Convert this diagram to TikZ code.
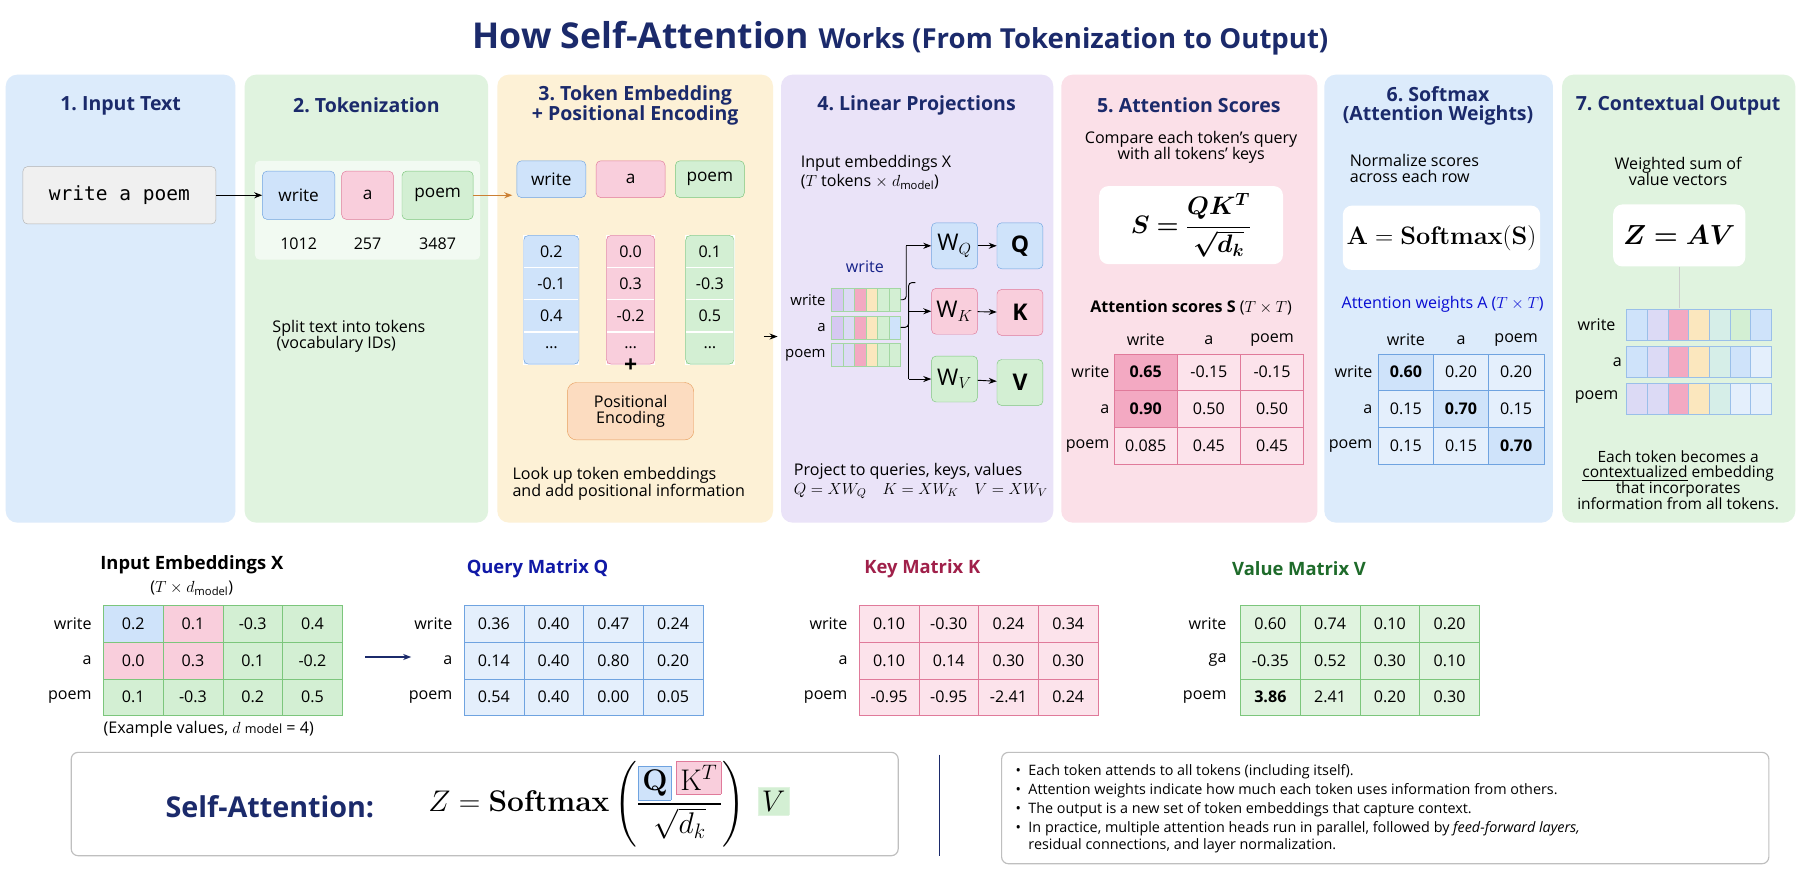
\documentclass[tikz,border=0pt]{standalone}
\usepackage{fix-cm}
\usepackage{amsmath,bm}
\usepackage[no-math]{fontspec}
\setmainfont{Open Sans}
\newfontfamily\monof{DejaVu Sans Mono}
\usetikzlibrary{arrows.meta,calc}
\definecolor{navy}{HTML}{1B2A6B}
\definecolor{pb}{HTML}{DCEBFB}
\definecolor{pg}{HTML}{E0F3DF}
\definecolor{py}{HTML}{FDF1D6}
\definecolor{pp}{HTML}{EAE3F8}
\definecolor{pk}{HTML}{FBE0E8}
\definecolor{bf}{HTML}{CFE3FA}\definecolor{bd}{HTML}{6FA3E0}
\definecolor{kf}{HTML}{F9CEDC}\definecolor{kd}{HTML}{E07A9A}
\definecolor{gf}{HTML}{D3EFD3}\definecolor{gd}{HTML}{7CC67C}
\definecolor{of}{HTML}{FCDCC0}\definecolor{od}{HTML}{E8A060}
\definecolor{lf}{HTML}{DCDAF5}\definecolor{uf}{HTML}{D6C8F2}
\definecolor{yf}{HTML}{FBE7BE}\definecolor{tf}{HTML}{D6EEE8}
\definecolor{kk}{HTML}{F3A9C2}\definecolor{kl}{HTML}{FCE3EB}
\definecolor{bl}{HTML}{E4EFFC}
\definecolor{crim}{HTML}{A0204A}\definecolor{dgreen}{HTML}{1E6B2A}
\newcommand\fs[1]{\fontsize{#1}{#1}\selectfont}
\newcommand\gridrow[6]{\foreach \c/\v [count=\i] in {#6}{\node[cell,fill=\c,minimum width=#4pt,minimum height=#5pt] (#1-\i) at ({#2+(\i-0.5)*#4},#3) {\v};}}
\begin{document}
\begin{tikzpicture}[x=1pt,y=-1pt,
 panel/.style={rounded corners=10pt,draw=none},
 ptitle/.style={font=\bfseries\fs{17},text=navy,align=center},
 txt/.style={font=\fs{14},align=left,anchor=west,inner sep=0},
 ctxt/.style={font=\fs{14},align=center,inner sep=0},
 tok/.style={rounded corners=4pt,draw,minimum height=42pt,font=\fs{15}},
 cell/.style={draw,font=\fs{14},inner sep=0},
 box/.style={rounded corners=4pt,draw,font=\fs{20},minimum height=40pt,minimum width=40pt},
 arr/.style={-{Stealth[length=7pt]},line width=1.2pt},
 wbox/.style={fill=white,rounded corners=8pt,draw=none}]
\useasboundingbox (0,0) rectangle (1568,760);
\fill[white] (0,0) rectangle (1568,760);
\node[text=navy,font=\bfseries] (title) at (784,33) {\fs{31}How Self-Attention \fs{24}Works (From Tokenization to Output)};
% panels
\fill[pb,panel] (5,65) rectangle (205,455);
\fill[pg,panel] (213,65) rectangle (425,455);
\fill[py,panel] (433,65) rectangle (673,455);
\fill[pp,panel] (680,65) rectangle (917,455);
\fill[pk,panel] (924,65) rectangle (1147,455);
\fill[pb,panel] (1153,65) rectangle (1352,455);
\fill[pg,panel] (1360,65) rectangle (1563,455);
\node[ptitle] (t1) at (105,92) {1.\ Input Text};
\node[ptitle] (t2) at (319,92) {2.\ Tokenization};
\node[ptitle] (t3) at (553,92) {3.\ Token Embedding\\+ Positional Encoding};
\node[ptitle] (t4) at (798,92) {4.\ Linear Projections};
\node[ptitle] (t5) at (1035,92) {5.\ Attention Scores};
\node[ptitle] (t6) at (1252,92) {6.\ Softmax\\(Attention Weights)};
\node[ptitle] (t7) at (1461,92) {7.\ Contextual Output};
% panel 1
\node[draw=gray!60,fill=gray!12,rounded corners=4pt,minimum width=168pt,minimum height=50pt,font=\monof\fs{17}] (inp) at (104,170) {write a poem};
% panel 2
\fill[white,opacity=0.6,rounded corners=4pt] (222,140) rectangle (418,226);
\node[tok,fill=bf,draw=bd,minimum width=63pt] (w) at (260,170) {write};
\node[tok,fill=kf,draw=kd,minimum width=45pt] (a) at (320,170) {a};
\node[tok,fill=gf,draw=gd,minimum width=62pt] (p) at (381,170) {poem};
\node[ctxt] (i1) at (260,212) {1012};
\node[ctxt] (i2) at (320,212) {257};
\node[ctxt] (i3) at (381,212) {3487};
\draw[arr] (inp.east) -- (w.west);
\node[txt] (s2) at (237,293) {Split text into tokens\\\ (vocabulary IDs)};
% panel 3
\node[tok,fill=bf,draw=bd,minimum width=60pt,minimum height=32pt] (w3) at (480,156) {write};
\node[tok,fill=kf,draw=kd,minimum width=60pt,minimum height=32pt] (a3) at (549,156) {a};
\node[tok,fill=gf,draw=gd,minimum width=60pt,minimum height=32pt] (p3) at (618,156) {poem};
\draw[arr,color=brown!80!orange] (p.east) -- (446,170);
\begin{scope}[cell/.append style={draw=white,line width=1pt}]
\foreach \v [count=\j] in {0.2,-0.1,0.4,\ldots}{\node[cell,fill=bf,minimum width=48pt,minimum height=28pt] (eb\j) at (480,{191+28*\j}) {\v};}
\foreach \v [count=\j] in {0.0,0.3,-0.2,\ldots}{\node[cell,fill=kf,minimum width=42pt,minimum height=28pt] (ek\j) at (549,{191+28*\j}) {\v};}
\foreach \v [count=\j] in {0.1,-0.3,0.5,\ldots}{\node[cell,fill=gf,minimum width=42pt,minimum height=28pt] (eg\j) at (618,{191+28*\j}) {\v};}
\end{scope}
\draw[bd,rounded corners=4pt] (456,205) rectangle (504,317);
\draw[kd,rounded corners=4pt] (528,205) rectangle (570,317);
\draw[gd,rounded corners=4pt] (597,205) rectangle (639,317);
\node[font=\bfseries\fs{20}] (plus) at (549,318) {+};
\node[tok,fill=of,draw=od,minimum width=110pt,minimum height=50pt,align=center,font=\fs{14},rounded corners=8pt] (pe) at (549,358) {Positional\\Encoding};
\node[txt] (s3) at (446,421) {Look up token embeddings\\and add positional information};
\coordinate (a4) at (677,293);
\draw[arr,line width=1pt] (665,293) -- (a4);
% panel 4
\node[txt] (s4) at (697,150) {Input embeddings X\\[2pt]($T$ tokens $\times$ $d_{\text{model}}$)};
\node[ctxt,text=navy!80!blue] (wl) at (753,232) {write};
\foreach \r/\y in {write/261,a/285,poem/309}{\node[font=\fs{13},anchor=east,inner sep=0] (rl\r) at (719,\y) {\r};}
\begin{scope}[cell/.append style={draw=gd!70}]
\gridrow{b1}{724}{261}{10}{20}{uf/,lf/,kk/,yf/,gf/,gf/}
\gridrow{b2}{724}{285}{10}{20}{uf/,lf/,kk/,yf/,gf/,bf/}
\gridrow{b3}{724}{309}{10}{20}{lf/,lf/,kk/,yf/,gf/,gf/}
\end{scope}
\node[box,fill=bf,draw=bd] (WQ) at (831,214) {W$_Q$};
\node[box,fill=kf,draw=kd] (WK) at (831,271) {W$_K$};
\node[box,fill=gf,draw=gd] (WV) at (831,330) {W$_V$};
\node[box,fill=bf,draw=bd,font=\bfseries\fs{20}] (Q) at (888,214) {Q};
\node[box,fill=kf,draw=kd,font=\bfseries\fs{20}] (K) at (888,272) {K};
\node[box,fill=gf,draw=gd,font=\bfseries\fs{20}] (V) at (888,333) {V};
\draw[thick,rounded corners=3pt] (b1-6.east) -- (789,261) -- (789,214);
\draw[arr,line width=0.8pt] (789,214) -- (WQ.west);
\draw[thick,rounded corners=3pt] (b2-6.east) -- (791,285) -- (791,246) -- (797,246);
\draw[thick,rounded corners=3pt] (791,280) -- (791,330);
\draw[arr,line width=0.8pt] (791,271) -- (WK.west);
\draw[arr,line width=0.8pt] (791,330) -- (WV.west);
\draw[arr,line width=0.8pt] (WQ) -- (Q);
\draw[arr,line width=0.8pt] (WK) -- (K);
\draw[arr,line width=0.8pt] (WV) -- (V);
\node[txt] (s4b) at (691,419) {Project to queries, keys, values\\[2pt]$Q=XW_Q\quad K=XW_K\quad V=XW_V$};
% panel 5
\node[ctxt] (s5) at (1037,128) {Compare each token's query\\with all tokens' keys};
\node[wbox,minimum width=160pt,minimum height=68pt,font=\fs{22}] (f5) at (1037,196) {$\bm{S=\dfrac{QK^T}{\sqrt{d_k}}}$};
\node[ctxt,font=\bfseries\fs{14}] (l5) at (1037,268) {Attention scores S {\mdseries($T\times T$)}};
\foreach \h/\x in {write/997.5,a/1052.5,poem/1107.5}{\node[ctxt] (h5\h) at (\x,296) {\h};}
\foreach \r/\y in {write/324,a/356,poem/388}{\node[font=\fs{14},anchor=east,inner sep=0] (r5\r) at (966,\y) {\r};}
\begin{scope}[cell/.append style={draw=kd}]
\gridrow{s1}{970}{324}{55}{32}{kk/\textbf{0.65},kl/-0.15,kl/-0.15}
\gridrow{s2}{970}{356}{55}{32}{kk/\textbf{0.90},kl/0.50,kl/0.50}
\gridrow{s3}{970}{388}{55}{32}{kl/0.085,kl/0.45,kl/0.45}
\end{scope}
% panel 6
\node[txt] (s6) at (1175,147) {Normalize scores\\across each row};
\node[wbox,minimum width=160pt,minimum height=56pt,font=\fs{22}] (f6) at (1255,207) {$\mathbf{A=Softmax(S)}$};
\node[ctxt,text=blue!70!navy] (l6) at (1256,265) {Attention weights A ($T\times T$)};
\foreach \h/\x in {write/1224,a/1272,poem/1320}{\node[ctxt] (h6\h) at (\x,296) {\h};}
\foreach \r/\y in {write/324,a/356,poem/388}{\node[font=\fs{14},anchor=east,inner sep=0] (r6\r) at (1195,\y) {\r};}
\begin{scope}[cell/.append style={draw=bd}]
\gridrow{a1}{1200}{324}{48}{32}{bf/\textbf{0.60},bl/0.20,bl/0.20}
\gridrow{a2}{1200}{356}{48}{32}{bl/0.15,bf/\textbf{0.70},bl/0.15}
\gridrow{a3}{1200}{388}{48}{32}{bl/0.15,bl/0.15,bf/\textbf{0.70}}
\end{scope}
% panel 7
\node[ctxt] (s7) at (1461,149) {Weighted sum of\\value vectors};
\node[wbox,minimum width=115pt,minimum height=54pt,font=\fs{24}] (f7) at (1462,205) {$\bm{Z=AV}$};
\draw[gray!40] (f7.south) -- (1462,268);
\foreach \r/\y/\x in {write/283/1390,a/315/1408,poem/346/1390}{\node[font=\fs{14},inner sep=0] (r7\r) at (\x,\y) {\r};}
\begin{scope}[cell/.append style={draw=bd!70}]
\gridrow{z1}{1416}{283}{18}{27}{bf/,lf/,kk/,yf/,tf/,gf/,bf/}
\gridrow{z2}{1416}{315}{18}{27}{bf/,lf/,kk/,yf/,tf/,bf/,bl/}
\gridrow{z3}{1416}{347}{18}{27}{lf/,lf/,kk/,yf/,tf/,bl/,bl/}
\end{scope}
\node[ctxt,font=\fs{13.5}] (s7b) at (1461,418) {Each token becomes a\\\underline{contextualized} embedding\\that incorporates\\information from all tokens.};
% bottom matrices
\node[ctxt,font=\bfseries\fs{16}] (tx) at (167,492) {Input Embeddings X};
\node[ctxt] (tx2) at (167,512) {($T\times d_{\text{model}}$)};
\node[ctxt,font=\bfseries\fs{16},text=navy!60!blue] (tq) at (468,495) {Query Matrix Q};
\node[ctxt,font=\bfseries\fs{16},text=crim] (tk) at (803,495) {Key Matrix K};
\node[ctxt,font=\bfseries\fs{16},text=dgreen] (tv) at (1131,495) {Value Matrix V};
\foreach \n/\lx/\lb in {X/80/a,Q/394/a,K/738/a,V/1068/ga}{
 \node[font=\fs{14},anchor=east,inner sep=0] (\n rw) at (\lx,543) {write};
 \node[font=\fs{14},anchor=east,inner sep=0] (\n ra) at (\lx,575) {\lb};
 \node[font=\fs{14},anchor=east,inner sep=0] (\n rp) at (\lx,607) {poem};}
\begin{scope}[cell/.append style={draw=gd}]
\gridrow{x1}{90}{543}{52}{32}{bf/0.2,kf/0.1,gf/-0.3,gf/0.4}
\gridrow{x2}{90}{575}{52}{32}{kf/0.0,kf/0.3,gf/0.1,gf/-0.2}
\gridrow{x3}{90}{607}{52}{32}{gf/0.1,gf/-0.3,gf/0.2,gf/0.5}
\end{scope}
\node[txt] (ex) at (90,635) {(Example values, $d$ {\fs{11}model} = 4)};
\draw[arr,navy] (318,572) -- (358,572);
\begin{scope}[cell/.append style={draw=bd}]
\gridrow{q1}{404}{543}{52}{32}{bl/0.36,bl/0.40,bl/0.47,bl/0.24}
\gridrow{q2}{404}{575}{52}{32}{bl/0.14,bl/0.40,bl/0.80,bl/0.20}
\gridrow{q3}{404}{607}{52}{32}{bl/0.54,bl/0.40,bl/0.00,bl/0.05}
\end{scope}
\begin{scope}[cell/.append style={draw=kd}]
\gridrow{k1}{748}{543}{52}{32}{kl/0.10,kl/-0.30,kl/0.24,kl/0.34}
\gridrow{k2}{748}{575}{52}{32}{kl/0.10,kl/0.14,kl/0.30,kl/0.30}
\gridrow{k3}{748}{607}{52}{32}{kl/-0.95,kl/-0.95,kl/-2.41,kl/0.24}
\end{scope}
\begin{scope}[cell/.append style={draw=gd}]
\gridrow{v1}{1080}{543}{52}{32}{pg/0.60,pg/0.74,pg/0.10,pg/0.20}
\gridrow{v2}{1080}{575}{52}{32}{pg/-0.35,pg/0.52,pg/0.30,pg/0.10}
\gridrow{v3}{1080}{607}{52}{32}{pg/\textbf{3.86},pg/2.41,pg/0.20,pg/0.30}
\end{scope}
% bottom summary
\draw[gray!50,rounded corners=6pt,line width=1pt] (62,655) rectangle (782,745);
\node[font=\bfseries\fs{25},text=navy] (sa) at (235,702) {Self-Attention:};
\node[font=\fs{26}] (sf) at (530,700) {$Z=\mathbf{Softmax}\left(\dfrac{\fcolorbox{bd}{bf}{$\mathbf{Q}$}\,\fcolorbox{kd}{kf}{$\mathrm{K}^T$}}{\sqrt{d_k}}\right)\ \fcolorbox{pg}{gf}{$V$}$};
\draw[navy,line width=1.5pt] (818,657) -- (818,745);
\draw[gray!50,rounded corners=6pt,line width=1pt] (872,655) rectangle (1540,752);
\node[txt,font=\fs{12.5},align=left] (bul) at (884,704) {\textbullet\ \ Each token attends to all tokens (including itself).\\[3pt]
\textbullet\ \ Attention weights indicate how much each token uses information from others.\\[3pt]
\textbullet\ \ The output is a new set of token embeddings that capture context.\\[3pt]
\textbullet\ \ In practice, multiple attention heads run in parallel, followed by \textit{feed-forward layers,}\\[1pt]
\phantom{\textbullet\ \ }residual connections, and layer normalization.};
\end{tikzpicture}
\end{document}
